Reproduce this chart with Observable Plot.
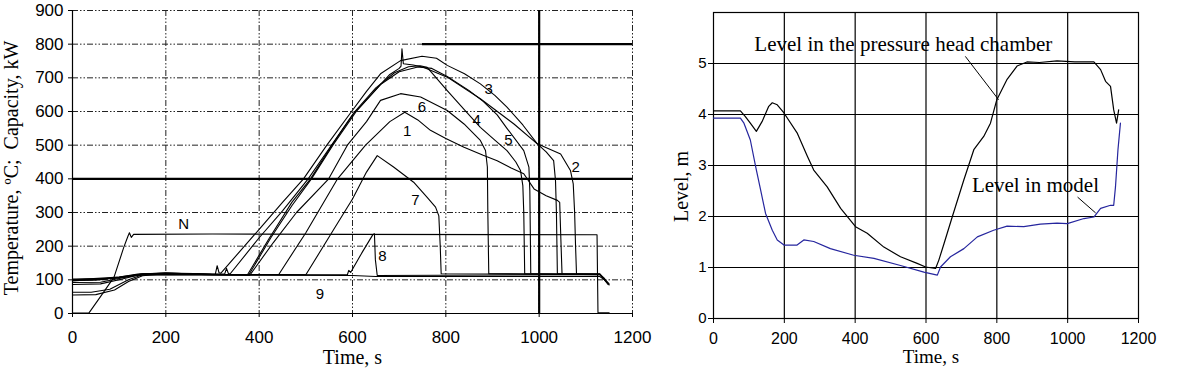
<!DOCTYPE html>
<html><head><meta charset="utf-8">
<script src="https://cdn.jsdelivr.net/npm/d3@7"></script>
<script src="https://cdn.jsdelivr.net/npm/@observablehq/plot@0.6"></script>
<style>
body{margin:0;background:#fff;}
#wrap{position:relative;width:1200px;height:370px;overflow:hidden;}
#left,#right{position:absolute;top:0;}
#left{left:0;} #right{left:640px;}
svg{overflow:visible;}
</style></head>
<body><div id="wrap"><div id="left"></div><div id="right"></div></div>
<script>
// ---------- Left panel data: [time s, value] ----------
const curve1 = [[0,100],[60,102],[100,108],[140,117],[200,120],[300,116],[442,116],[500,240],[568,400],[628,500],[680,570],[712,598],[740,575],[767,544],[800,520],[839,494],[880,470],[910,454],[940,432],[967,415],[989,370],[1015,350],[1039,336],[1044,330],[1047,200],[1049,117],[1130,116],[1140,100],[1148,86]];
const curve2 = [[0,98],[50,99],[100,106],[150,118],[200,120],[320,117],[326,117],[330,134],[334,119],[338,118],[400,225],[450,305],[505,400],[550,490],[600,590],[640,650],[680,710],[700,728],[704,735],[706,786],[709,742],[730,738],[753,731],[803,702],[874,638],[946,563],[996,504],[1046,474],[1067,425],[1073,385],[1076,300],[1078,200],[1080,118],[1130,117],[1140,104],[1148,90]];
const curve3 = [[0,92],[60,93],[100,104],[140,116],[200,120],[300,116],[306,116],[310,142],[314,121],[318,120],[400,250],[450,330],[495,400],[545,500],[598,600],[630,660],[660,712],[703,751],[749,764],[780,758],[803,737],[840,712],[874,682],[905,648],[931,613],[965,560],[996,504],[1015,480],[1031,454],[1035,395],[1037,300],[1039,119],[1130,118],[1140,100],[1150,88]];
const curve4 = [[0,86],[60,88],[100,100],[140,114],[200,119],[300,116],[375,115],[420,220],[470,330],[510,400],[556,500],[605,600],[650,670],[690,715],[720,733],[745,736],[760,731],[803,662],[840,605],[874,553],[905,515],[931,484],[950,450],[960,425],[965,380],[967,300],[969,118],[1130,116]];
const curve5 = [[0,63],[40,63],[80,72],[120,100],[150,115],[200,118],[300,115],[378,115],[425,225],[470,320],[512,400],[558,500],[608,600],[660,680],[700,718],[740,732],[770,728],[803,704],[850,662],[880,630],[910,590],[931,550],[967,484],[978,435],[980,365],[982,118],[1130,115]];
const curve6 = [[0,55],[50,56],[90,70],[120,95],[150,112],[200,118],[300,115],[380,114],[430,210],[480,300],[549,400],[589,500],[630,570],[660,633],[703,653],[746,643],[803,603],[839,563],[874,514],[885,484],[889,435],[890,300],[892,118],[1130,116]];
const curve7 = [[0,100],[100,108],[150,117],[200,119],[300,116],[500,115],[560,250],[600,340],[630,420],[653,469],[688,435],[731,390],[760,345],[778,316],[785,290],[788,200],[790,118],[1130,116]];
const curve8 = [[0,97],[100,106],[150,116],[300,115],[589,115],[592,128],[596,122],[620,180],[644,235],[647,237],[649,160],[653,113],[1130,115]];
const curve9 = [[0,102],[80,104],[120,110],[150,115],[600,113],[650,110],[1130,110],[1140,100],[1150,85]];
const curveN = [[0,1],[35,1],[60,50],[89,108],[110,197],[119,230],[122,240],[126,226],[131,235],[300,236],[600,235],[1124,234],[1126,2],[1150,2]];
const curveNames = ["1","2","3","4","5","6","7","8","9","N"];
const curveData = [curve1,curve2,curve3,curve4,curve5,curve6,curve7,curve8,curve9,curveN];
// curve label anchors [time, value]
const labelNames = ["1","2","3","4","5","6","7","8","9","N"];
const labelPos = [[717,541],[1078,434],[892,667],[866,575],[934,514],[749,613],[735,336],[664,169],[530,58],[238,264]];
const xTicksL = [0,200,400,600,800,1000,1200];
const yTicksL = [0,100,200,300,400,500,600,700,800,900];
const yTitleL = "Temperature, ºC;  Capacity, kW";
const xTitle = "Time, s";

// ---------- Right panel data ----------
const chamberT = [0,76,90,104,121,137,156,166,180,199,236,265,283,321,359,401,434,481,528,575,599,627,636,651,674,707,735,763,782,800,829,857,885,920,970,1020,1074,1093,1107,1121,1130,1138,1144];
const chamberL = [4.07,4.07,3.96,3.83,3.67,3.86,4.16,4.23,4.19,4.03,3.64,3.18,2.91,2.58,2.16,1.80,1.67,1.40,1.21,1.08,1.01,0.98,1.14,1.47,1.99,2.72,3.31,3.57,3.83,4.29,4.69,4.95,5.03,5.02,5.05,5.03,5.03,4.88,4.65,4.55,4.09,3.83,4.09];
const modelT = [0,76,86,104,119,133,147,166,180,199,236,255,283,330,396,453,528,594,632,641,669,707,745,791,829,876,923,970,999,1046,1074,1093,1121,1130,1135,1142,1149];
const modelL = [3.93,3.93,3.83,3.50,2.98,2.52,2.06,1.73,1.54,1.44,1.44,1.54,1.51,1.37,1.24,1.18,1.04,0.91,0.85,1.01,1.21,1.37,1.60,1.73,1.81,1.80,1.85,1.87,1.86,1.96,1.99,2.16,2.22,2.22,2.58,3.31,3.83];
const xTicksR = [0,200,400,600,800,1000,1200];
const yTicksR = [0,1,2,3,4,5];
const yTitleR = "Level, m";
const annoText = ["Level in the pressure head chamber","Level in model"];
const annoPos = [[536,5.37],[909,2.62]];
const leaderFrom = [[711,5.14],[1028,2.38]];
const leaderTo = [[805,4.29],[1079,2.07]];

const SANS = "'Liberation Sans', Arial, sans-serif";
const SERIF = "'Liberation Serif', 'Times New Roman', serif";
const dashGrid = "6,2,1.5,2,1.5,2";

// ---------- build left ----------
const tableL = [];
curveData.forEach((c,i)=>c.forEach(([t,v])=>tableL.push({s:curveNames[i],t,v})));
const labelsL = labelNames.map((n,i)=>({n,t:labelPos[i][0],v:labelPos[i][1]}));

const left = Plot.plot({
  width:640,height:370,marginLeft:72,marginRight:8,marginTop:10,marginBottom:57,
  style:{fontFamily:SANS,color:"#000",background:"transparent",overflow:"visible"},
  x:{domain:[0,1200]}, y:{domain:[0,900]},
  marks:[
    Plot.ruleY(yTicksL.filter(d=>d>0),{stroke:"#222",strokeWidth:1,strokeDasharray:dashGrid}),
    Plot.ruleX(xTicksL.filter(d=>d>0),{stroke:"#222",strokeWidth:1,strokeDasharray:dashGrid}),
    Plot.ruleY([400],{stroke:"#000",strokeWidth:2.2}),
    Plot.ruleY([800],{x1:750,x2:1200,stroke:"#000",strokeWidth:2.2}),
    Plot.ruleX([1000],{stroke:"#000",strokeWidth:2.2}),
    Plot.line(tableL,{x:"t",y:"v",z:"s",stroke:"#000",strokeWidth:1.1,curve:"linear"}),
    Plot.text(labelsL,{x:"t",y:"v",text:"n",fontSize:15,fontFamily:SANS,fill:"#000"}),
    Plot.ruleX([0],{stroke:"#000",strokeWidth:1.2}),
    Plot.ruleY([0],{stroke:"#000",strokeWidth:1.2}),
    Plot.axisX({ticks:xTicksL,tickSize:4,tickPadding:13,fontSize:17,label:null,tickFormat:d=>String(d)}),
    Plot.axisY({ticks:yTicksL,tickSize:4,tickPadding:5,fontSize:17,label:null,tickFormat:d=>String(d)}),
    Plot.text([yTitleL],{frameAnchor:"left",rotate:-90,dx:-61,dy:6,textAnchor:"middle",lineAnchor:"middle",fontFamily:SERIF,fontSize:20,fill:"#000"}),
    Plot.text([xTitle],{frameAnchor:"bottom",dy:44,textAnchor:"middle",lineAnchor:"middle",fontFamily:SERIF,fontSize:20,fill:"#000"})
  ]
});
document.getElementById("left").appendChild(left);

// ---------- build right ----------
const chamber = chamberT.map((t,i)=>({t,L:chamberL[i]}));
const model = modelT.map((t,i)=>({t,L:modelL[i]}));
const annos = annoText.map((s,i)=>({s,t:annoPos[i][0],L:annoPos[i][1]}));
const leaders = leaderFrom.map((f,i)=>({t1:f[0],L1:f[1],t2:leaderTo[i][0],L2:leaderTo[i][1]}));

const right = Plot.plot({
  width:560,height:370,marginLeft:73,marginRight:62,marginTop:12,marginBottom:52,
  style:{fontFamily:SANS,color:"#000",background:"transparent",overflow:"visible"},
  x:{domain:[0,1200]}, y:{domain:[0,6]},
  marks:[
    Plot.ruleY(yTicksR.filter(d=>d>0),{stroke:"#000",strokeWidth:1.2}),
    Plot.ruleX(xTicksR.filter(d=>d>0&&d<1200),{stroke:"#000",strokeWidth:1.2}),
    Plot.frame({stroke:"#000",strokeWidth:1.2}),
    Plot.line(model,{x:"t",y:"L",stroke:"#26269e",strokeWidth:1.2}),
    Plot.line(chamber,{x:"t",y:"L",stroke:"#000",strokeWidth:1.2}),
    Plot.link(leaders,{x1:"t1",y1:"L1",x2:"t2",y2:"L2",stroke:"#000",strokeWidth:1}),
    Plot.text(annos,{x:"t",y:"L",text:"s",fontFamily:SERIF,fontSize:21,fill:"#000"}),
    Plot.axisX({ticks:xTicksR,tickSize:5,tickPadding:9,fontSize:16,label:null,tickFormat:d=>String(d)}),
    Plot.axisY({ticks:yTicksR,tickSize:5,tickPadding:2,fontSize:15,label:null,tickFormat:d=>String(d)}),
    Plot.text([yTitleR],{frameAnchor:"left",rotate:-90,dx:-32,dy:21,textAnchor:"middle",lineAnchor:"middle",fontFamily:SERIF,fontSize:20,fill:"#000"}),
    Plot.text([xTitle],{frameAnchor:"bottom",dx:5,dy:38,textAnchor:"middle",lineAnchor:"middle",fontFamily:SERIF,fontSize:19,fill:"#000"})
  ]
});
document.getElementById("right").appendChild(right);
</script></body></html>
